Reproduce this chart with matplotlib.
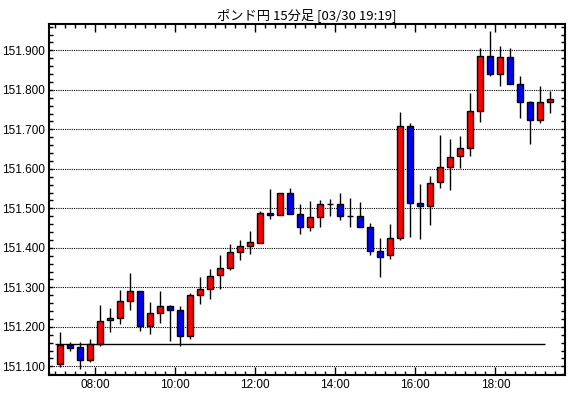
import numpy as np
import matplotlib
matplotlib.use('Agg')
import matplotlib.pyplot as plt
from matplotlib.ticker import MultipleLocator, FuncFormatter

# 15-minute candles, 07:00 .. 19:15 (hours as float for the bar start)
start_hour = 7.0
bar_hours = 0.25
opens = [151.107, 151.154, 151.149, 151.117, 151.156, 151.216, 151.222, 151.265, 151.290, 151.203,
         151.234, 151.252, 151.242, 151.176, 151.280, 151.297, 151.330, 151.348, 151.389, 151.404,
         151.411, 151.487, 151.482, 151.538, 151.485, 151.452, 151.477, 151.510, 151.510, 151.480,
         151.480, 151.454, 151.391, 151.381, 151.424, 151.708, 151.513, 151.505, 151.566, 151.604,
         151.632, 151.652, 151.746, 151.885, 151.839, 151.882, 151.814, 151.768, 151.723, 151.768]
closes = [151.155, 151.147, 151.117, 151.156, 151.214, 151.222, 151.265, 151.290, 151.203, 151.234,
          151.252, 151.242, 151.178, 151.280, 151.297, 151.328, 151.348, 151.389, 151.405, 151.415,
          151.487, 151.482, 151.538, 151.486, 151.452, 151.477, 151.510, 151.510, 151.480, 151.480,
          151.454, 151.391, 151.378, 151.424, 151.708, 151.514, 151.505, 151.563, 151.604, 151.630,
          151.653, 151.746, 151.885, 151.839, 151.882, 151.814, 151.768, 151.723, 151.768, 151.778]
highs = [151.187, 151.161, 151.161, 151.169, 151.255, 151.248, 151.293, 151.336, 151.290, 151.263,
         151.291, 151.255, 151.253, 151.285, 151.326, 151.347, 151.382, 151.410, 151.420, 151.443,
         151.494, 151.549, 151.538, 151.551, 151.511, 151.518, 151.521, 151.524, 151.540, 151.526,
         151.516, 151.463, 151.425, 151.460, 151.744, 151.716, 151.562, 151.582, 151.686, 151.676,
         151.682, 151.792, 151.906, 151.949, 151.911, 151.906, 151.834, 151.772, 151.810, 151.797]
lows = [151.099, 151.139, 151.094, 151.112, 151.152, 151.188, 151.208, 151.243, 151.190, 151.183,
        151.210, 151.165, 151.152, 151.169, 151.258, 151.271, 151.297, 151.343, 151.369, 151.384,
        151.411, 151.474, 151.482, 151.486, 151.434, 151.443, 151.452, 151.480, 151.471, 151.452,
        151.454, 151.381, 151.327, 151.372, 151.420, 151.428, 151.422, 151.459, 151.552, 151.546,
        151.601, 151.632, 151.719, 151.836, 151.810, 151.814, 151.729, 151.664, 151.716, 151.741]
base_price = 151.156

title = 'ポンド円 15分足 [03/30 19:19]'

plt.rcParams['font.family'] = ['Liberation Sans', 'DejaVu Sans']

fig = plt.figure(figsize=(5.7, 3.98), dpi=100)
ax = fig.add_axes([49.3 / 570, 1 - 375 / 398, (565 - 49.3) / 570, (375 - 24.3) / 398])

starts = start_hour + bar_hours * np.arange(len(opens))
centers = starts + bar_hours / 2
width = bar_hours * 0.6

for x, o, c, h, l in zip(centers, opens, closes, highs, lows):
    ax.vlines(x, l, h, color='black', lw=1, zorder=2)
    if abs(c - o) < 1e-9:
        ax.hlines(o, x - width / 2, x + width / 2, color='black', lw=1, zorder=3)
        continue
    color = '#ff0000' if c > o else '#0000ff'
    ax.bar(x, abs(c - o), bottom=min(o, c), width=width, color=color,
           edgecolor='black', linewidth=1, zorder=3)

ax.hlines(base_price, starts[0], starts[-1], color='black', lw=1, zorder=1)

ax.set_xlim(6.85, 19.74)
ax.set_ylim(151.078, 151.966)

# grid and ticks
ax.yaxis.set_major_locator(MultipleLocator(0.1))
ax.yaxis.set_minor_locator(MultipleLocator(0.02))
ax.yaxis.set_major_formatter(FuncFormatter(lambda v, p: f'{v:.3f}'))
ax.xaxis.set_major_locator(MultipleLocator(2))
ax.xaxis.set_minor_locator(MultipleLocator(0.25))
ax.xaxis.set_major_formatter(FuncFormatter(lambda v, p: f'{int(round(v)):02d}:00'))
ax.grid(axis='y', which='major', color='black', linestyle=(0, (1, 1)), lw=0.8)
ax.set_axisbelow(True)

ax.tick_params(which='both', direction='in', top=True, right=True, width=1, labelsize=8.5,
               colors='black', pad=3)
ax.tick_params(which='major', axis='x', length=6)
ax.tick_params(which='major', axis='y', length=3)
ax.tick_params(which='minor', length=3)

for sp in ax.spines.values():
    sp.set_linewidth(1.5)

ax.set_title(title, family=['Noto Sans CJK JP', 'DejaVu Sans'], fontsize=9.5, pad=4)

fig.savefig('out.png', dpi=100)
